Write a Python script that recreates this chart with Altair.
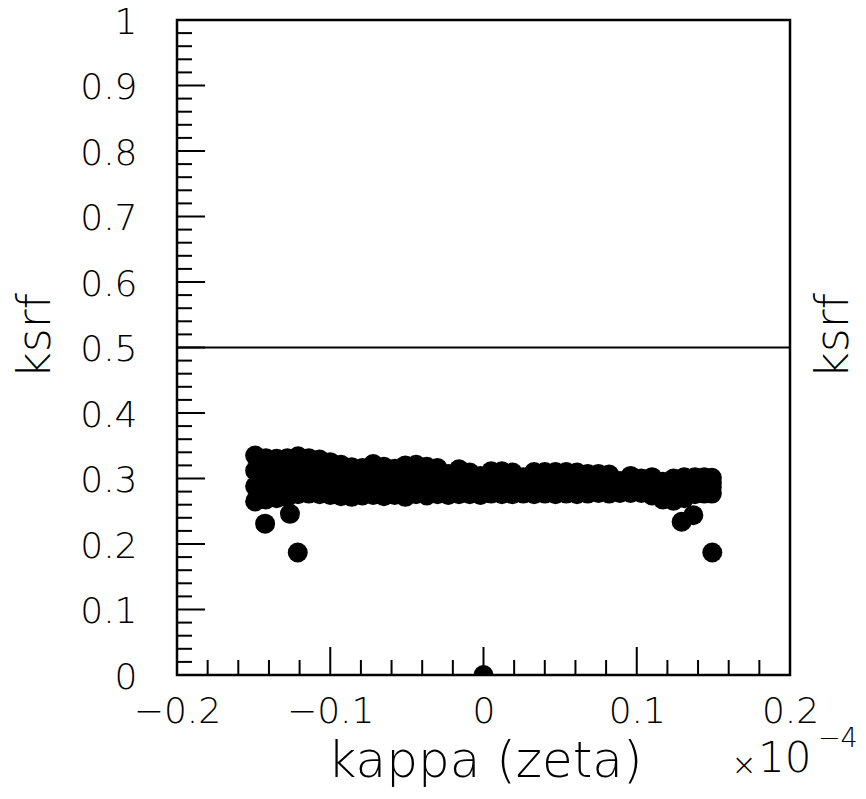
import altair as alt
import pandas as pd

# ---- dense cluster, read column by column (x in units of 1e-4) ----
band_x = [-0.149, -0.142, -0.135, -0.128, -0.121, -0.114, -0.107, -0.100, -0.093, -0.086,
          -0.079, -0.072, -0.065, -0.058, -0.051, -0.044, -0.037, -0.030, -0.023, -0.016,
          -0.009, -0.002, 0.005, 0.012, 0.019, 0.026, 0.033, 0.040, 0.047, 0.054,
          0.061, 0.068, 0.075, 0.082, 0.089, 0.096, 0.103, 0.110, 0.117, 0.124,
          0.131, 0.138, 0.144, 0.149]
band_top = [0.335, 0.331, 0.330, 0.331, 0.334, 0.331, 0.329, 0.325, 0.321, 0.317,
            0.316, 0.322, 0.318, 0.315, 0.320, 0.321, 0.318, 0.316, 0.307, 0.314,
            0.309, 0.304, 0.311, 0.311, 0.309, 0.302, 0.310, 0.310, 0.310, 0.310,
            0.309, 0.307, 0.307, 0.306, 0.296, 0.304, 0.300, 0.302, 0.295, 0.300,
            0.302, 0.302, 0.302, 0.301]
band_mid1 = [0.312, 0.310, 0.310, 0.311, 0.315, 0.313, 0.311, 0.308, 0.305, 0.302,
             0.302, 0.306, 0.302, 0.301, 0.304, 0.304, 0.302, 0.301, 0.297, 0.300,
             0.298, 0.296, 0.299, 0.299, 0.298, 0.295, 0.298, 0.298, 0.298, 0.298,
             0.297, 0.296, 0.296, 0.296, 0.292, 0.295, 0.293, 0.294, 0.288, 0.289,
             0.293, 0.294, 0.294, 0.294]
band_mid2 = [0.288, 0.289, 0.290, 0.292, 0.295, 0.295, 0.293, 0.291, 0.289, 0.287,
             0.288, 0.290, 0.288, 0.288, 0.289, 0.290, 0.288, 0.288, 0.286, 0.288,
             0.287, 0.286, 0.288, 0.288, 0.287, 0.286, 0.287, 0.288, 0.287, 0.288,
             0.287, 0.287, 0.287, 0.287, 0.286, 0.287, 0.287, 0.286, 0.280, 0.278,
             0.282, 0.286, 0.287, 0.287]
band_bot = [0.265, 0.268, 0.270, 0.272, 0.276, 0.277, 0.276, 0.275, 0.273, 0.272,
            0.274, 0.275, 0.273, 0.275, 0.272, 0.276, 0.274, 0.276, 0.275, 0.276,
            0.276, 0.275, 0.277, 0.276, 0.276, 0.277, 0.276, 0.277, 0.276, 0.277,
            0.276, 0.277, 0.278, 0.277, 0.278, 0.278, 0.278, 0.274, 0.268, 0.266,
            0.270, 0.276, 0.277, 0.277]

# ---- isolated points ----
out_x = [-0.1425, -0.1263, -0.1212, 0.1293, 0.1369, 0.1493, 0.0]
out_y = [0.231, 0.246, 0.187, 0.234, 0.244, 0.187, 0.0]

# ---- reference line and tick values ----
hline_y = [0.5]
x_major = [-0.2, -0.1, 0.0, 0.1, 0.2]
x_minor = [-0.18, -0.16, -0.14, -0.12, -0.08, -0.06, -0.04, -0.02,
           0.02, 0.04, 0.06, 0.08, 0.12, 0.14, 0.16, 0.18]
y_major = [0.0, 0.1, 0.2, 0.3, 0.4, 0.5, 0.6, 0.7, 0.8, 0.9, 1.0]
y_minor = [0.02, 0.04, 0.06, 0.08, 0.12, 0.14, 0.16, 0.18, 0.22, 0.24, 0.26, 0.28,
           0.32, 0.34, 0.36, 0.38, 0.42, 0.44, 0.46, 0.48, 0.52, 0.54, 0.56, 0.58,
           0.62, 0.64, 0.66, 0.68, 0.72, 0.74, 0.76, 0.78, 0.82, 0.84, 0.86, 0.88,
           0.92, 0.94, 0.96, 0.98]

x_title = "kappa (zeta)"
y_title = "ksrf"

# ---- build tables ----
rows = []
for i, xv in enumerate(band_x):
    for col in (band_top, band_mid1, band_mid2, band_bot):
        rows.append({"x": xv, "y": col[i]})
for xv, yv in zip(out_x, out_y):
    rows.append({"x": xv, "y": yv})
pts = pd.DataFrame(rows)

W, H = 613, 655
FONT = "DejaVu Sans"
FW = 200
xscale = alt.Scale(domain=[-0.2, 0.2], nice=False, zero=False)
yscale = alt.Scale(domain=[0, 1], nice=False, zero=False)

x_axis = alt.Axis(values=x_major, title=None, ticks=False, tickSize=0, domain=False,
                  grid=False, labelFont=FONT, labelFontSize=36, labelFontWeight=FW,
                  labelColor="black",
                  labelPadding=47, labelBaseline="alphabetic", labelFlush=False,
                  labelOverlap=False,
                  labelExpr="datum.value == 0 ? '0' : replace(format(datum.value, '.1f'), '-', '\u2212')")
y_axis = alt.Axis(values=y_major, title=None, ticks=False, tickSize=0, domain=False,
                  grid=False, labelFont=FONT, labelFontSize=36, labelFontWeight=FW,
                  labelColor="black",
                  labelPadding=40, labelBaseline="middle", labelFlush=False,
                  labelOverlap=False, labelOffset=2,
                  labelExpr="datum.value == 0 ? '0' : datum.value == 1 ? '1' : format(datum.value, '.1f')")


def X(field):
    return alt.X(field, type="quantitative", scale=xscale, axis=x_axis)


def Y(field):
    return alt.Y(field, type="quantitative", scale=yscale, axis=y_axis)


scatter = alt.Chart(pts).mark_circle(size=400, color="black", opacity=1, clip=True).encode(
    x=X("x"), y=Y("y"),
)

hline = alt.Chart(pd.DataFrame({"v": hline_y})).mark_rule(color="black", strokeWidth=2).encode(
    y=Y("v")
)


def xticks(vals, length):
    return alt.Chart(pd.DataFrame({"v": vals})).mark_rule(color="black", strokeWidth=2).encode(
        x=X("v"), y=alt.value(H), y2=alt.value(H - length),
    )


def yticks(vals, length):
    return alt.Chart(pd.DataFrame({"v": vals})).mark_rule(color="black", strokeWidth=2).encode(
        y=Y("v"), x=alt.value(0), x2=alt.value(length),
    )


def label(text, x, y, size, angle=0, align="center", baseline="alphabetic"):
    return alt.Chart(pd.DataFrame({"t": [text]})).mark_text(
        font=FONT, fontSize=size, fontWeight=FW, color="black", angle=angle,
        align=align, baseline=baseline
    ).encode(text="t:N", x=alt.value(x), y=alt.value(y))


chart = alt.layer(
    scatter,
    hline,
    xticks(x_major, 28), xticks(x_minor, 15),
    yticks(y_major, 28), yticks(y_minor, 15),
    label(x_title, 308, 757, 50),
    label(y_title, -127, 316, 46, angle=270),
    label(y_title, 671, 316, 46, angle=270),
    label("\u00d7", 567, 755, 30),
    label("10", 581, 752, 42, align="left"),
    label("\u22124", 641, 727, 27, align="left"),
).properties(
    width=W, height=H,
    autosize=alt.AutoSizeParams(type="none"),
    padding={"left": 169, "top": 12, "right": 68, "bottom": 114},
).configure(
    background="white",
    view=alt.ViewConfig(stroke="black", strokeWidth=2.5),
)

chart.save("out.html", embed_options={"renderer": "svg", "actions": False})
